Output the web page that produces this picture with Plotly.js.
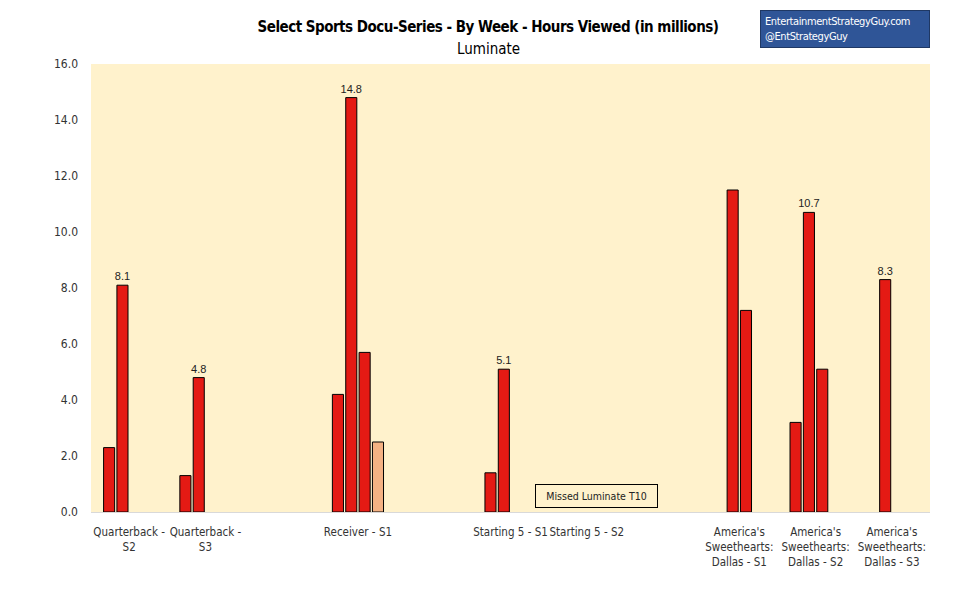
<!DOCTYPE html>
<html>
<head>
<meta charset="utf-8">
<script src="https://cdn.plot.ly/plotly-3.0.1.min.js"></script>
<style>
html,body{margin:0;padding:0;background:#fff;}
#chart{width:955px;height:614px;}
#chart text.xtick, #chart text.ytick, #chart .gtitle, #chart .annotation-text, #chart .xtick text, #chart .ytick text { font-stretch: condensed !important; }
#chart .gtitle { letter-spacing: -0.5px; }
#chart .annotation[data-index="1"] text { letter-spacing: -0.4px; }
</style>
</head>
<body>
<div id="chart"></div>
<script>
const categories = [
  "Quarterback -<br>S2",
  "Quarterback -<br>S3",
  " ",
  "Receiver - S1",
  "  ",
  "Starting 5 - S1",
  "Starting 5 - S2",
  "   ",
  "America's<br>Sweethearts:<br>Dallas - S1",
  "America's<br>Sweethearts:<br>Dallas - S2",
  "America's<br>Sweethearts:<br>Dallas - S3"
];
const seriesNames = ["Week 1", "Week 2", "Week 3", "Week 4"];
const week1 = [2.3, 1.3, null, 4.2, null, 1.4, null, null, null, 3.2, null];
const week2 = [8.1, 4.8, null, 14.8, null, 5.1, null, null, 11.5, 10.7, 8.3];
const week3 = [null, null, null, 5.7, null, null, null, null, 7.2, 5.1, null];
const week4 = [null, null, null, 2.5, null, null, null, null, null, null, null];
const week2Labels = ["8.1", "4.8", "", "14.8", "", "5.1", "", "", "", "10.7", "8.3"];
const seriesColors = ["#E41A14", "#E41A14", "#E41A14", "#F4B183"];
const yTicks = [0, 2, 4, 6, 8, 10, 12, 14, 16];

const allSeries = [week1, week2, week3, week4];
const labelSets = [null, week2Labels, null, null];

const condensed = "'DejaVu Sans Condensed', 'DejaVu Sans', sans-serif";

const traces = allSeries.map((vals, i) => {
  const t = {
    type: 'bar',
    name: seriesNames[i],
    x: categories,
    y: vals,
    marker: {color: seriesColors[i], line: {color: '#000000', width: 1}},
    hoverinfo: 'skip',
    cliponaxis: false,
    constraintext: 'none'
  };
  if (labelSets[i]) {
    t.text = labelSets[i];
    t.textposition = 'outside';
    t.textfont = {family: "'Liberation Sans', Arial, sans-serif", size: 11, color: '#222222'};
  } else {
    t.textposition = 'none';
  }
  return t;
});

const L = 91, R = 930, T = 64, B = 512;
const px = x => (x - L) / (R - L);
const py = y => (B - y) / (B - T);

const layout = {
  width: 955, height: 614,
  margin: {l: L, r: 955 - R, t: T, b: 614 - B, pad: 0},
  paper_bgcolor: '#ffffff',
  plot_bgcolor: '#FFF2CC',
  showlegend: false,
  barmode: 'group',
  bargap: 0.3,
  bargroupgap: 0.17,
  font: {family: condensed, size: 12, color: '#333333'},
  title: {
    text: '<b>Select Sports Docu-Series - By Week - Hours Viewed (in millions)</b>',
    font: {family: condensed, size: 15, color: '#000000'},
    x: 488 / 955, xanchor: 'center', xref: 'container',
    y: 1 - 27 / 614, yanchor: 'middle', yref: 'container'
  },
  xaxis: {
    type: 'category',
    categoryorder: 'array',
    categoryarray: categories,
    showgrid: false,
    zeroline: false,
    showline: true,
    linecolor: '#D9D9D9',
    linewidth: 1,
    ticks: '',
    tickangle: 0,
    ticklabelstandoff: 9,
    tickfont: {family: condensed, size: 11.5, color: '#333333'},
    fixedrange: true
  },
  yaxis: {
    range: [0, 16],
    tickvals: yTicks,
    tickformat: '.1f',
    showgrid: false,
    zeroline: false,
    showline: false,
    ticks: '',
    ticklabelstandoff: 12,
    tickfont: {family: condensed, size: 12, color: '#333333'},
    fixedrange: true
  },
  annotations: [
    {
      text: 'Luminate', xref: 'paper', yref: 'paper',
      x: px(488), y: py(49), xanchor: 'center', yanchor: 'middle',
      showarrow: false, font: {family: condensed, size: 15, color: '#000000'}
    },
    {
      text: 'EntertainmentStrategyGuy.com<br>@EntStrategyGuy',
      xref: 'paper', yref: 'paper',
      x: px(760), y: py(10), xanchor: 'left', yanchor: 'top',
      width: 160, height: 28, align: 'left', valign: 'middle',
      showarrow: false, bgcolor: '#2F5597', bordercolor: '#1F3864', borderwidth: 1, borderpad: 4,
      font: {family: condensed, size: 11, color: '#ffffff'}
    },
    {
      text: 'Missed Luminate T10',
      xref: 'paper', yref: 'paper',
      x: px(596.5), y: py(496), xanchor: 'center', yanchor: 'middle',
      width: 121, height: 22, align: 'center', valign: 'middle',
      showarrow: false, bgcolor: 'rgba(0,0,0,0)', bordercolor: '#000000', borderwidth: 1, borderpad: 0,
      font: {family: condensed, size: 10.5, color: '#222222'}
    }
  ]
};

Plotly.newPlot('chart', traces, layout, {displayModeBar: false, staticPlot: true});
</script>
</body>
</html>
